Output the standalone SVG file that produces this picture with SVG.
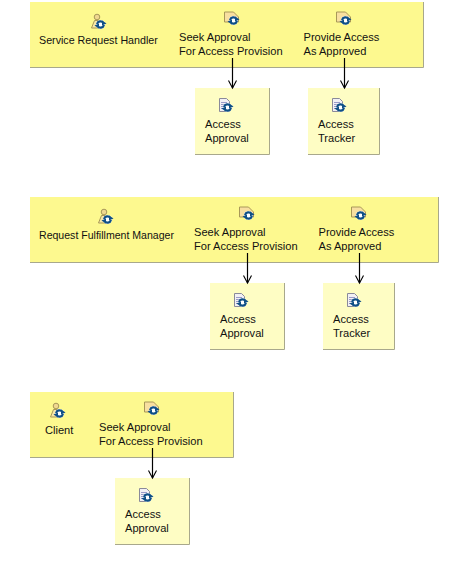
<svg xmlns="http://www.w3.org/2000/svg" width="459" height="586" viewBox="0 0 459 586">
<style>
.lane{fill:#fdf98f;stroke:none}
.edge{fill:none;stroke:#a8a88c;stroke-width:1}
.doc{fill:#fefdc4;stroke:none}
text{font-family:"Liberation Sans",Arial,sans-serif;font-size:11.1px;fill:#111}
text.who{font-size:10.7px}
.conn{fill:none;stroke:#000;stroke-width:1.2}
.sh{fill:#f8dfa0;stroke:#a89858;stroke-width:1}
.pg{fill:#f2f0f4;stroke:#8a8a9a;stroke-width:1}
.ln{stroke:#9a9ac8;stroke-width:1}
.cyc{fill:none;stroke:#0f4f86;stroke-width:2.2}
.cyh{fill:#0f4f86}
</style>
<defs>
<g id="cycle">
<circle r="4.500" fill="#fff"/>
<path class="cyc" d="M-3.500 -0.500A3.600 3.600 0 0 1 3 -1.500"/>
<path class="cyc" d="M3.500 0.500A3.600 3.600 0 0 1 -3 1.500"/>
<path class="cyh" d="M1.500 -4L6 -1L1.500 1Z"/>
<path class="cyh" d="M-1.500 4L-6 1L-1.500 -1Z"/>
</g>
<g id="role">
<circle cx="-2" cy="-6" r="2.800" fill="#f0d890" stroke="#a89858"/>
<path d="M-7.500 5L-4.500 -2.500H1L3 5Z" fill="#f8e8a8" stroke="#a89858"/>
<use href="#cycle" x="1.500" y="1.500"/>
</g>
<g id="act">
<path class="sh" d="M-7.500 -7H1.500L6.500 -2V3H-7.500Z"/>
<use href="#cycle" x="1.500" y="1.500"/>
</g>
<g id="art">
<path class="pg" d="M-6.500 -7.500H0.500L3.500 -4.500V5.500H-6.500Z"/>
<path class="ln" d="M-5 -3.500H1M-5 -1.500H0M-5 0.500H-1M-5 2.500H-2"/>
<use href="#cycle" x="1.500" y="1.500"/>
</g>
<marker id="arrow" markerUnits="userSpaceOnUse" markerWidth="12" markerHeight="12" refX="6" refY="10" orient="0" viewBox="0 0 12 12"><path d="M2 2.500L6 10L10 2.500" fill="none" stroke="#000" stroke-width="1.1"/></marker>
</defs>

<g id="service-request-handler">
<rect class="lane" x="30" y="2" width="393" height="65"/>
<path class="edge" d="M30 67.500H423.500V2"/>
<use href="#role" x="99" y="23"/>
<text class="who" x="39" y="44">Service Request Handler</text>
</g>
<g id="srh-seek">
<use href="#act" x="232" y="19"/>
<text x="179" y="41">Seek Approval</text>
<text x="179" y="55">For Access Provision</text>
</g>
<g id="srh-provide">
<use href="#act" x="344" y="19"/>
<text x="303.500" y="41">Provide Access</text>
<text x="303.500" y="55">As Approved</text>
</g>
<g id="srh-approval">
<rect class="doc" x="195" y="88" width="74" height="66"/>
<path class="edge" d="M195 154.500H269.500V88"/>
<use href="#art" x="226" y="106"/>
<text x="205" y="128">Access</text>
<text x="205" y="142">Approval</text>
</g>
<g id="srh-tracker">
<rect class="doc" x="308" y="88" width="71" height="66"/>
<path class="edge" d="M308 154.500H379.500V88"/>
<use href="#art" x="339" y="106"/>
<text x="318" y="128">Access</text>
<text x="318" y="142">Tracker</text>
</g>

<g id="request-fulfillment-manager">
<rect class="lane" x="30" y="197" width="408" height="65"/>
<path class="edge" d="M30 262.500H438.500V197"/>
<use href="#role" x="106" y="218"/>
<text class="who" x="39" y="239" textLength="135" lengthAdjust="spacingAndGlyphs">Request Fulfillment Manager</text>
</g>
<g id="rfm-seek">
<use href="#act" x="247" y="214"/>
<text x="194" y="236">Seek Approval</text>
<text x="194" y="250">For Access Provision</text>
</g>
<g id="rfm-provide">
<use href="#act" x="359" y="214"/>
<text x="318.500" y="236">Provide Access</text>
<text x="318.500" y="250">As Approved</text>
</g>
<g id="rfm-approval">
<rect class="doc" x="210" y="283" width="74" height="66"/>
<path class="edge" d="M210 349.500H284.500V283"/>
<use href="#art" x="241" y="301"/>
<text x="220" y="323">Access</text>
<text x="220" y="337">Approval</text>
</g>
<g id="rfm-tracker">
<rect class="doc" x="323" y="283" width="71" height="66"/>
<path class="edge" d="M323 349.500H394.500V283"/>
<use href="#art" x="354" y="301"/>
<text x="333" y="323">Access</text>
<text x="333" y="337">Tracker</text>
</g>

<g id="client">
<rect class="lane" x="30" y="392" width="203" height="65"/>
<path class="edge" d="M30 457.500H233.500V392"/>
<use href="#role" x="58" y="412"/>
<text x="45" y="434">Client</text>
</g>
<g id="client-seek">
<use href="#act" x="152" y="409"/>
<text x="99" y="431">Seek Approval</text>
<text x="99" y="445">For Access Provision</text>
</g>
<g id="client-approval">
<rect class="doc" x="115" y="478" width="74" height="66"/>
<path class="edge" d="M115 544.500H189.500V478"/>
<use href="#art" x="146" y="496"/>
<text x="125" y="518">Access</text>
<text x="125" y="532">Approval</text>
</g>

<g id="connectors">
<path class="conn" d="M232.500 58V88" marker-end="url(#arrow)"/>
<path class="conn" d="M344.500 58V88" marker-end="url(#arrow)"/>
<path class="conn" d="M247.500 253V283" marker-end="url(#arrow)"/>
<path class="conn" d="M359.500 253V283" marker-end="url(#arrow)"/>
<path class="conn" d="M152.500 448V478" marker-end="url(#arrow)"/>
</g>
</svg>
